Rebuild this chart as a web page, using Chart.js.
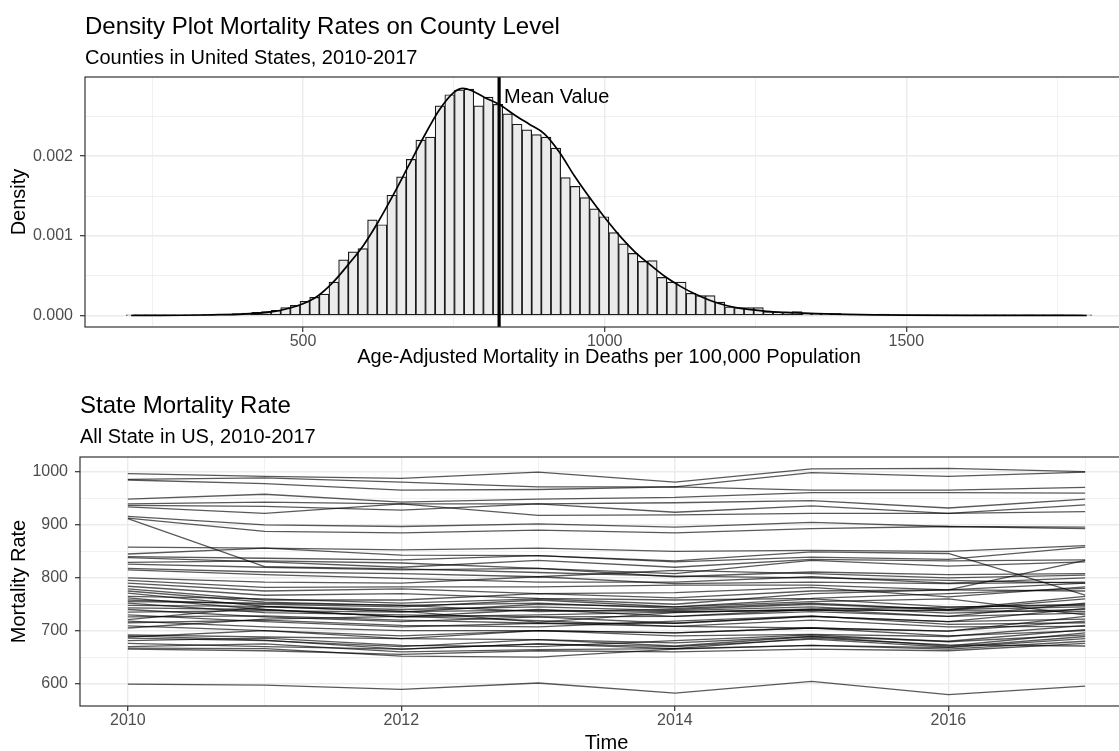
<!DOCTYPE html>
<html>
<head>
<meta charset="utf-8">
<title>Mortality Rates</title>
<script src="https://cdn.jsdelivr.net/npm/chart.js@4.4.1/dist/chart.umd.min.js"></script>
<style>
    html, body { margin: 0; padding: 0; background: #fff; overflow: hidden; width: 1119px; height: 751px; position: relative; }
    canvas { position: absolute; left: 0; }
    #densityChart { top: 0; }
    #stateChart { top: 372px; }
</style>
</head>
<body>
<canvas id="densityChart" width="1140" height="372"></canvas>
<canvas id="stateChart" width="1140" height="390"></canvas>
<script>
/* ==================== DATA ==================== */

// County histogram: 100 bins of width 16, first bin centred on 215
const BIN_FIRST_CENTER = 215;
const BIN_WIDTH = 16;
const BIN_DENSITY = [
    0.000004, 0.000003, 0.000004, 0.000005, 0.000004, 0.000006, 0.000008, 0.00001, 0.000012, 0.000016,
    0.00002, 0.000025, 0.000032, 0.00004, 0.000052, 0.000067, 0.0001, 0.00013, 0.00018, 0.00023,
    0.00027, 0.00042, 0.0007, 0.0008, 0.00084, 0.0012, 0.00114, 0.00151, 0.00174, 0.00196,
    0.0022, 0.00224, 0.00263, 0.00277, 0.00283, 0.00284, 0.00263, 0.00274, 0.00265, 0.00253,
    0.0024, 0.00233, 0.00227, 0.00224, 0.0021, 0.00173, 0.00162, 0.00148, 0.00134, 0.00124,
    0.00104, 0.0009, 0.00078, 0.00068, 0.00069, 0.00048, 0.00042, 0.00042, 0.00028, 0.00025,
    0.00025, 0.00017, 0.00011, 0.0001, 0.0001, 0.0001, 0.00005, 0.000046, 0.00004, 0.00005,
    0.000025, 0.000025, 0.000022, 0.00003, 0.000012, 0.00001, 0.000008, 0.00001, 0.00002, 0.000008,
    0.000006, 0.000005, 0.000006, 0.000004, 0.000005, 0.000003, 0.000004, 0.000003, 0.000004, 0.000003,
    0.000003, 0.000004, 0.000003, 0.000002, 0.000003, 0.000003, 0.000002, 0.000003, 0.000002, 0.000003
];

// Kernel density curve
const DENSITY_X = [215, 250, 300, 350, 400, 450, 475, 500, 525, 550, 575, 600, 625, 650, 675, 700, 725, 750, 765, 780,
    800, 825, 850, 875, 900, 925, 950, 975, 1000, 1025, 1050, 1075, 1100, 1125, 1150, 1175, 1200, 1225, 1250, 1275,
    1300, 1350, 1400, 1450, 1500, 1600, 1700, 1799];
const DENSITY_Y = [0.000002, 0.000003, 0.000005, 0.00001, 0.00002, 0.00005, 0.00009, 0.00015, 0.00025, 0.00042,
    0.00064, 0.00088, 0.00118, 0.00152, 0.00188, 0.00224, 0.00257, 0.0028, 0.00285, 0.00282,
    0.00274, 0.00265, 0.00252, 0.0024, 0.00228, 0.00205, 0.00175, 0.00148, 0.00123, 0.001,
    0.0008, 0.00064, 0.00049, 0.00037, 0.00027, 0.00019, 0.00013, 0.00009, 0.00007, 0.00005,
    0.00004, 0.000025, 0.000015, 0.00001, 0.000007, 0.000004, 0.000003, 0.000002];

const MEAN_VALUE = 825;
const MEAN_LABEL = 'Mean Value';

const RATE_TICKS = [250, 500, 750, 1000, 1250, 1500, 1750];
const RATE_MAJOR = [500, 1000, 1500];
const DENSITY_TICKS = [0, 0.0005, 0.001, 0.0015, 0.002, 0.0025];
const DENSITY_MAJOR = [0, 0.001, 0.002];

// State lines, one row per state, 2010 .. 2017
const YEARS = [2010, 2011, 2012, 2013, 2014, 2015, 2016, 2017];
const YEAR_MAJOR = [2010, 2012, 2014, 2016];
const STATE_TICKS = [600, 650, 700, 750, 800, 850, 900, 950, 1000];
const STATE_MAJOR = [600, 700, 800, 900, 1000];

const HIGH_RATE_STATES = [
    [997, 992, 988, 1000, 981, 1006, 1007, 1001],
    [986, 989, 981, 972, 972, 999, 992, 1000],
    [985, 978, 966, 967, 972, 966, 966, 971],
    [949, 958, 943, 949, 952, 961, 961, 960],
    [940, 943, 940, 940, 942, 946, 932, 949],
    [937, 935, 928, 940, 924, 936, 922, 938],
    [934, 922, 940, 918, 919, 922, 922, 925],
    [916, 900, 897, 902, 896, 905, 897, 896],
    [913, 888, 885, 890, 885, 893, 897, 893],
    [912, 821, 817, 810, 803, 800, 795, 790]
];

const UPPER_MID_STATES = [
    [858, 856, 853, 856, 850, 852, 850, 861],
    [845, 856, 843, 842, 832, 849, 846, 767],
    [840, 837, 834, 842, 830, 839, 835, 858],
    [838, 830, 820, 833, 820, 835, 832, 834],
    [829, 832, 828, 818, 808, 833, 822, 830],
    [826, 820, 815, 818, 802, 811, 806, 808],
    [818, 811, 808, 802, 814, 808, 800, 805],
    [815, 806, 799, 792, 792, 802, 790, 800]
];

const MID_STATES = [
    [800, 792, 790, 802, 789, 792, 789, 792],
    [795, 782, 783, 783, 786, 786, 777, 790],
    [790, 775, 779, 770, 772, 782, 764, 783],
    [784, 767, 770, 761, 758, 761, 770, 780],
    [779, 758, 758, 770, 762, 775, 777, 775],
    [775, 754, 748, 752, 742, 752, 740, 765],
    [771, 746, 736, 739, 736, 739, 739, 760],
    [765, 760, 752, 760, 750, 770, 777, 833],
    [762, 740, 726, 740, 727, 736, 727, 752],
    [758, 750, 745, 758, 745, 760, 745, 748],
    [755, 752, 748, 736, 740, 750, 740, 745],
    [752, 734, 730, 726, 714, 727, 717, 742],
    [748, 746, 740, 745, 738, 745, 733, 740],
    [743, 740, 726, 730, 735, 739, 738, 736]
];

const LOW_RATE_STATES = [
    [740, 726, 717, 726, 727, 740, 727, 733],
    [735, 738, 735, 750, 745, 755, 760, 730],
    [730, 717, 707, 714, 708, 705, 699, 727],
    [726, 728, 720, 714, 714, 727, 717, 722],
    [721, 745, 737, 716, 734, 741, 744, 750],
    [718, 707, 700, 700, 696, 705, 699, 718],
    [715, 720, 710, 707, 718, 728, 712, 715],
    [709, 700, 690, 700, 690, 693, 689, 710],
    [705, 722, 727, 719, 708, 720, 707, 708],
    [692, 688, 685, 683, 677, 689, 680, 702],
    [690, 682, 665, 675, 666, 686, 673, 671],
    [688, 700, 685, 700, 696, 705, 690, 700],
    [686, 681, 670, 683, 671, 689, 671, 696],
    [681, 686, 672, 670, 681, 692, 679, 692],
    [676, 670, 665, 675, 670, 684, 669, 689],
    [670, 675, 660, 664, 666, 672, 668, 685],
    [667, 666, 652, 650, 665, 672, 665, 680],
    [665, 662, 655, 662, 660, 665, 662, 676],
    [599, 597, 589, 601, 582, 604, 579, 595]
];

/* ==================== STYLE HELPERS ==================== */

const FONT = "'Liberation Sans', Arial, sans-serif";
const TICK_TEXT = '#4D4D4D';
const GRID = '#EBEBEB';

function isMajor(list, value) {
    return list.some(m => Math.abs(m - value) < 1e-9);
}

// ggplot-like axis: light grid, ticks only on the major breaks
function gridStyle(majors) {
    return {
        color: GRID,
        lineWidth: ctx => (ctx.tick && isMajor(majors, ctx.tick.value)) ? 1.4 : 0.7,
        tickColor: ctx => (ctx.tick && isMajor(majors, ctx.tick.value)) ? '#333333' : 'rgba(0,0,0,0)',
        tickWidth: 1.2,
        tickLength: 5,
        offset: false
    };
}

function frameAndTitles(title, subtitle, titleY, subtitleY) {
    return {
        id: 'frameAndTitles',
        afterDraw(chart) {
            const { ctx, chartArea: a } = chart;
            ctx.save();
            ctx.strokeStyle = '#333333';
            ctx.lineWidth = 1.2;
            ctx.strokeRect(a.left, a.top, a.right - a.left, a.bottom - a.top);
            ctx.fillStyle = '#000000';
            ctx.textAlign = 'left';
            ctx.textBaseline = 'alphabetic';
            ctx.font = `24px ${FONT}`;
            ctx.fillText(title, a.left, titleY);
            ctx.font = `20px ${FONT}`;
            ctx.fillText(subtitle, a.left, subtitleY);
            ctx.restore();
        }
    };
}

const meanLinePlugin = {
    id: 'meanLine',
    afterDatasetsDraw(chart) {
        const { ctx, chartArea: a, scales } = chart;
        const x = scales.x.getPixelForValue(MEAN_VALUE);
        ctx.save();
        ctx.strokeStyle = '#000000';
        ctx.lineWidth = 3.2;
        ctx.beginPath();
        ctx.moveTo(x, a.top);
        ctx.lineTo(x, a.bottom);
        ctx.stroke();
        ctx.fillStyle = '#000000';
        ctx.font = `20px ${FONT}`;
        ctx.textAlign = 'left';
        ctx.textBaseline = 'alphabetic';
        ctx.fillText(MEAN_LABEL, x + 5, a.top + 26);
        ctx.restore();
    }
};

const commonOptions = {
    responsive: false,
    animation: false,
    devicePixelRatio: 1,
    events: [],
    plugins: { legend: { display: false }, tooltip: { enabled: false } }
};

/* ==================== COUNTY DENSITY CHART ==================== */

function initDensityChart() {
    const binCenters = BIN_DENSITY.map((_, i) => BIN_FIRST_CENTER + i * BIN_WIDTH);

    new Chart(document.getElementById('densityChart').getContext('2d'), {
        type: 'line',
        data: {
            datasets: [
                {
                    type: 'line',
                    data: DENSITY_X.map((x, i) => ({ x: x, y: DENSITY_Y[i] })),
                    borderColor: '#000000',
                    borderWidth: 1.7,
                    pointRadius: 0,
                    cubicInterpolationMode: 'monotone',
                    fill: false,
                    order: 1
                },
                {
                    type: 'bar',
                    data: binCenters.map((x, i) => ({ x: x, y: BIN_DENSITY[i] })),
                    backgroundColor: '#EBEBEB',
                    borderColor: '#1A1A1A',
                    borderWidth: 1.2,
                    borderSkipped: false,
                    barPercentage: 1,
                    categoryPercentage: 1,
                    order: 2
                }
            ]
        },
        options: {
            ...commonOptions,
            layout: { padding: { top: 77, right: 7, bottom: 0, left: 0 } },
            scales: {
                x: {
                    type: 'linear',
                    min: 138.6,
                    max: 1875.7,
                    offset: false,
                    afterFit(s) { s.height = 45; },
                    afterBuildTicks(s) { s.ticks = RATE_TICKS.map(v => ({ value: v })); },
                    ticks: {
                        autoSkip: false, maxRotation: 0, padding: 0,
                        color: TICK_TEXT, font: { family: FONT, size: 16 },
                        callback: v => isMajor(RATE_MAJOR, v) ? String(v) : ''
                    },
                    grid: gridStyle(RATE_MAJOR),
                    border: { display: false },
                    title: {
                        display: true,
                        text: 'Age-Adjusted Mortality in Deaths per 100,000 Population',
                        color: '#000000', font: { family: FONT, size: 20 },
                        padding: { top: 0, bottom: 3 }
                    }
                },
                y: {
                    type: 'linear',
                    min: -0.0001425,
                    max: 0.0029925,
                    afterFit(s) { s.width = 85; },
                    afterBuildTicks(s) { s.ticks = DENSITY_TICKS.map(v => ({ value: v })); },
                    ticks: {
                        autoSkip: false, padding: 7,
                        color: TICK_TEXT, font: { family: FONT, size: 16 },
                        callback: v => isMajor(DENSITY_MAJOR, v) ? v.toFixed(3) : ''
                    },
                    grid: gridStyle(DENSITY_MAJOR),
                    border: { display: false },
                    title: {
                        display: true, text: 'Density',
                        color: '#000000', font: { family: FONT, size: 20 },
                        padding: { top: 7, bottom: 0 }
                    }
                }
            }
        },
        plugins: [meanLinePlugin, frameAndTitles('Density Plot Mortality Rates on County Level', 'Counties in United States, 2010-2017', 34, 64)]
    });
}

/* ==================== STATE LINES CHART ==================== */

function initStateChart() {
    const allStates = [...HIGH_RATE_STATES, ...UPPER_MID_STATES, ...MID_STATES, ...LOW_RATE_STATES];

    new Chart(document.getElementById('stateChart').getContext('2d'), {
        type: 'line',
        data: {
            datasets: allStates.map(rates => ({
                data: rates.map((v, i) => ({ x: YEARS[i], y: v })),
                borderColor: 'rgba(0, 0, 0, 0.65)',
                borderWidth: 1.3,
                pointRadius: 0,
                tension: 0,
                fill: false
            }))
        },
        options: {
            ...commonOptions,
            layout: { padding: { top: 85, right: 7, bottom: 0, left: 0 } },
            scales: {
                x: {
                    type: 'linear',
                    min: 2009.65,
                    max: 2017.35,
                    offset: false,
                    afterFit(s) { s.height = 56; },
                    afterBuildTicks(s) { s.ticks = YEARS.map(v => ({ value: v })); },
                    ticks: {
                        autoSkip: false, maxRotation: 0, padding: 0,
                        color: TICK_TEXT, font: { family: FONT, size: 16 },
                        callback: v => isMajor(YEAR_MAJOR, v) ? String(v) : ''
                    },
                    grid: gridStyle(YEAR_MAJOR),
                    border: { display: false },
                    title: {
                        display: true, text: 'Time',
                        color: '#000000', font: { family: FONT, size: 20 },
                        padding: { top: 0, bottom: 7 }
                    }
                },
                y: {
                    type: 'linear',
                    min: 557.5,
                    max: 1028.5,
                    afterFit(s) { s.width = 80; },
                    afterBuildTicks(s) { s.ticks = STATE_TICKS.map(v => ({ value: v })); },
                    ticks: {
                        autoSkip: false, padding: 7,
                        color: TICK_TEXT, font: { family: FONT, size: 16 },
                        callback: v => isMajor(STATE_MAJOR, v) ? String(v) : ''
                    },
                    grid: gridStyle(STATE_MAJOR),
                    border: { display: false },
                    title: {
                        display: true, text: 'Mortality Rate',
                        color: '#000000', font: { family: FONT, size: 20 },
                        padding: { top: 7, bottom: 0 }
                    }
                }
            }
        },
        plugins: [frameAndTitles('State Mortality Rate', 'All State in US, 2010-2017', 41, 71)]
    });
}

document.addEventListener('DOMContentLoaded', function() {
    initDensityChart();
    initStateChart();
});
</script>
</body>
</html>
